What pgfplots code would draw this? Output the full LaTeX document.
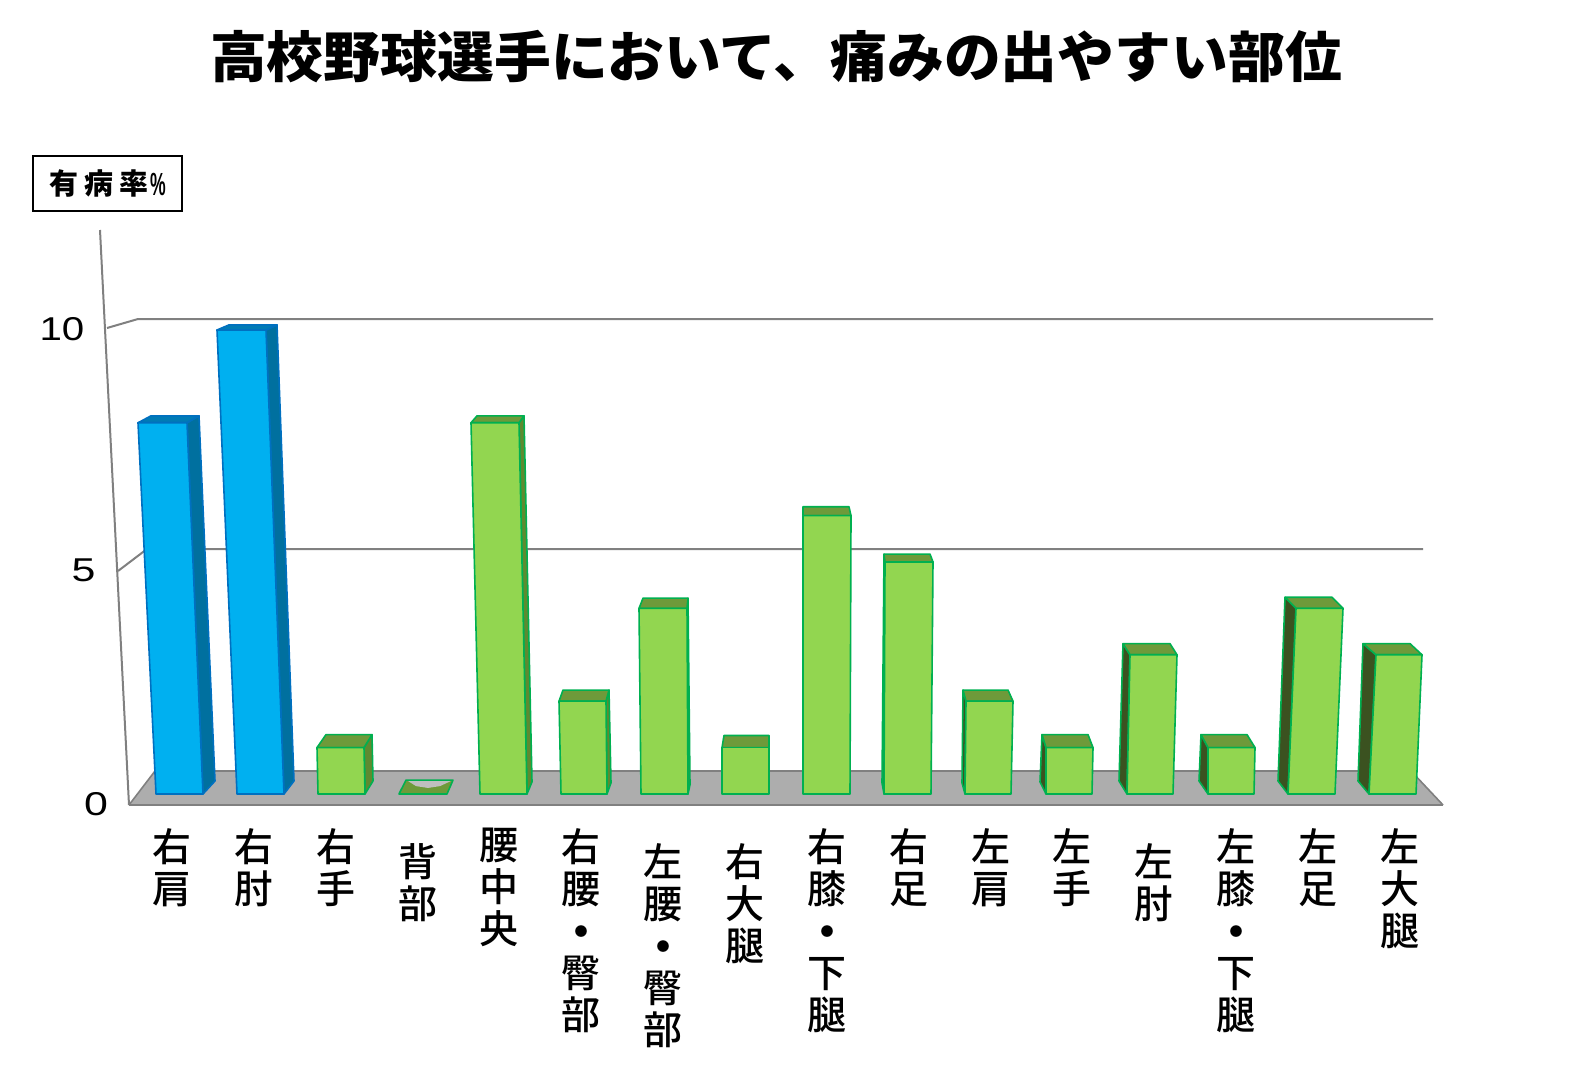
\documentclass[border=0pt]{standalone}
\usepackage{graphicx}
\usepackage{fontspec}
\setmainfont{Noto Sans CJK JP}
\newfontfamily\medfont{Noto Sans CJK JP Medium}
\newfontfamily\numfont{Liberation Sans}
\usepackage{pgfplots}
\pgfplotsset{compat=1.18}

\definecolor{bluefront}{HTML}{00B0F0}
\definecolor{blueedge}{HTML}{0070C0}
\definecolor{blueside}{HTML}{00709F}
\definecolor{bluetop}{HTML}{007BB5}
\definecolor{greenfront}{HTML}{92D650}
\definecolor{greenedge}{HTML}{00B050}
\definecolor{greentop}{HTML}{6E9A3A}
\definecolor{greenright}{HTML}{5F8A30}
\definecolor{greenleft}{HTML}{3B5220}
\definecolor{floorgrey}{HTML}{ADADAD}
\definecolor{linegrey}{HTML}{808080}

\pgfplotsset{
  canvas/.style={hide axis, scale only axis, width=1580pt, height=1077pt,
    xmin=0, xmax=1580, clip=false},
  bf/.style={fill=bluefront, draw=blueedge, line width=1.6pt, line join=round},
  bt/.style={fill=bluetop, draw=blueedge, line width=1.6pt, line join=round},
  bs/.style={fill=blueside, draw=blueedge, line width=1.6pt, line join=round},
  gf/.style={fill=greenfront, draw=greenedge, line width=1.6pt, line join=round},
  gt/.style={fill=greentop, draw=greenedge, line width=1.6pt, line join=round},
  gr/.style={fill=greenright, draw=greenedge, line width=1.6pt, line join=round},
  gl/.style={fill=greenleft, draw=greenedge, line width=1.6pt, line join=round},
}
\newcommand{\face}[2]{\addplot[#1] coordinates {#2} --cycle;}
% category label: x centre, top, stacked characters
\newcommand{\catlabel}[3]{\node[anchor=north, inner sep=0pt, align=center,
  font=\medfont\fontsize{39}{42}\selectfont] at (axis cs:#1,#2) {#3};}
\newcommand{\middot}{\raisebox{9pt}{\fontsize{13}{13}\selectfont ●}}

\begin{document}
\begin{tikzpicture}
\useasboundingbox (0,0) rectangle (1580pt,1077pt);

% frame, floor, grid and text, in pixel coordinates of the picture
\begin{axis}[canvas, ymin=0, ymax=1077, y dir=reverse]
  \addplot[fill=floorgrey, draw=none] coordinates {(129,805) (155,771) (1411,771) (1443,805)} --cycle;
  \addplot[linegrey, line width=1.6pt] coordinates {(155,771) (1411,771)};
  \addplot[linegrey, line width=2.2pt] coordinates {(129,805) (1443,805)};
  \addplot[linegrey, line width=1.6pt] coordinates {(129,805) (155,771)};
  \addplot[linegrey, line width=1.6pt] coordinates {(1411,771) (1443,805)};
  \addplot[linegrey, line width=2pt] coordinates {(100,230) (129,805)};
  \addplot[linegrey, line width=2pt] coordinates {(107,328) (138,319) (1433,319)};
  \addplot[linegrey, line width=2pt] coordinates {(118,571) (147,549) (1423,549)};

  \node[font=\fontsize{55}{60}\selectfont\bfseries, xscale=1.033] at (axis cs:776,57)
    {高校野球選手において、痛みの出やすい部位};
  \node[draw=black, line width=2pt, minimum width=149pt, minimum height=55pt, inner sep=0pt,
    font=\fontsize{29}{32}\selectfont\bfseries] at (axis cs:107.5,183.5)
    {有\hspace{6pt}病\hspace{6pt}率\hspace{2pt}\raisebox{-1pt}{\scalebox{0.55}[1]{\numfont\fontsize{32}{32}\selectfont\bfseries\%}}};

  \node[font=\numfont\fontsize{33}{33}\selectfont, xscale=1.22] at (axis cs:62,329.5) {10};
  \node[font=\numfont\fontsize{33}{33}\selectfont, xscale=1.3] at (axis cs:83.5,570) {5};
  \node[font=\numfont\fontsize{33}{33}\selectfont, xscale=1.3] at (axis cs:96,804) {0};

  \catlabel{172}{828}{右\\肩}
  \catlabel{254}{828}{右\\肘}
  \catlabel{336}{828}{右\\手}
  \catlabel{418}{843}{背\\部}
  \catlabel{499}{828}{腰\\中\\央}
  \catlabel{581}{828}{右\\腰\\\middot\\臀\\部}
  \catlabel{663}{843}{左\\腰\\\middot\\臀\\部}
  \catlabel{745}{843}{右\\大\\腿}
  \catlabel{827}{828}{右\\膝\\\middot\\下\\腿}
  \catlabel{909}{828}{右\\足}
  \catlabel{991}{828}{左\\肩}
  \catlabel{1072}{828}{左\\手}
  \catlabel{1154}{843}{左\\肘}
  \catlabel{1236}{828}{左\\膝\\\middot\\下\\腿}
  \catlabel{1318}{828}{左\\足}
  \catlabel{1400}{828}{左\\大\\腿}
\end{axis}

% bars: x in picture pixels, y in the chart's own units (46.4 px per 1 %, zero at pixel 794)
\begin{axis}[canvas, ymin=-6.0991, ymax=17.1121]
  % right shoulder 8
  \face{bs}{(203,0) (187,8) (199,8.15) (215,0.28)}
  \face{bt}{(138,8) (187,8) (199,8.15) (151,8.15)}
  \face{bf}{(156,0) (203,0) (187,8) (138,8)}
  % right elbow 10
  \face{bs}{(284,0) (266,10) (277,10.11) (294,0.28)}
  \face{bt}{(217,10) (266,10) (277,10.11) (229,10.11)}
  \face{bf}{(237,0) (284,0) (266,10) (217,10)}
  % right hand 1
  \face{gr}{(365,0) (364,1) (372,1.28) (373,0.28)}
  \face{gt}{(317,1) (364,1) (372,1.28) (326,1.28)}
  \face{gf}{(318,0) (365,0) (364,1) (317,1)}
  % back 0
  \face{gt}{(399,0) (447,0) (453,0.30) (406,0.30)}
  \addplot[fill=lightgray, draw=none] coordinates {(408,0.28) (451,0.28) (440,0.17) (428,0.13) (416,0.17)} --cycle;
  % mid lumbar 8
  \face{gr}{(527,0) (519,8) (524,8.15) (532,0.26)}
  \face{gt}{(471,8) (519,8) (524,8.15) (477,8.15)}
  \face{gf}{(480,0) (527,0) (519,8) (471,8)}
  % right lumbar, buttock 2
  \face{gr}{(607,0) (606,2) (609,2.24) (611,0.24)}
  \face{gt}{(559,2) (606,2) (609,2.24) (563,2.24)}
  \face{gf}{(561,0) (607,0) (606,2) (559,2)}
  % left lumbar, buttock 4
  \face{gr}{(688,0) (687,4) (688,4.22) (690,0.2)}
  \face{gt}{(639,4) (687,4) (688,4.22) (643,4.22)}
  \face{gf}{(641,0) (688,0) (687,4) (639,4)}
  % right thigh 1
  \face{gt}{(722,1) (769,1) (769,1.26) (724,1.26)}
  \face{gf}{(722,0) (769,0) (769,1) (722,1)}
  % right knee, lower leg 6
  \face{gt}{(803,6) (851,6) (849,6.19) (803,6.19)}
  \face{gf}{(803,0) (850,0) (851,6) (803,6)}
  % right foot 5
  \face{gl}{(884,0) (885,5) (884,5.17) (882,0.24)}
  \face{gt}{(885,5) (933,5) (930,5.17) (884,5.17)}
  \face{gf}{(884,0) (931,0) (933,5) (885,5)}
  % left shoulder 2
  \face{gl}{(965,0) (966,2) (963,2.24) (962,0.24)}
  \face{gt}{(966,2) (1013,2) (1008,2.24) (963,2.24)}
  \face{gf}{(965,0) (1011,0) (1013,2) (966,2)}
  % left hand 1
  \face{gl}{(1046,0) (1046,1) (1042,1.28) (1040,0.26)}
  \face{gt}{(1046,1) (1093,1) (1088,1.28) (1042,1.28)}
  \face{gf}{(1046,0) (1092,0) (1093,1) (1046,1)}
  % left elbow 3
  \face{gl}{(1127,0) (1130,3) (1123,3.24) (1119,0.28)}
  \face{gt}{(1130,3) (1177,3) (1170,3.24) (1123,3.24)}
  \face{gf}{(1127,0) (1173,0) (1177,3) (1130,3)}
  % left knee, lower leg 1
  \face{gl}{(1208,0) (1208,1) (1201,1.28) (1199,0.28)}
  \face{gt}{(1208,1) (1255,1) (1247,1.28) (1201,1.28)}
  \face{gf}{(1208,0) (1254,0) (1255,1) (1208,1)}
  % left foot 4
  \face{gl}{(1288,0) (1296,4) (1285,4.24) (1278,0.28)}
  \face{gt}{(1296,4) (1343,4) (1332,4.24) (1285,4.24)}
  \face{gf}{(1288,0) (1335,0) (1343,4) (1296,4)}
  % left thigh 3
  \face{gl}{(1369,0) (1376,3) (1363,3.24) (1358,0.28)}
  \face{gt}{(1376,3) (1422,3) (1410,3.24) (1363,3.24)}
  \face{gf}{(1369,0) (1416,0) (1422,3) (1376,3)}
\end{axis}
\end{tikzpicture}
\end{document}
